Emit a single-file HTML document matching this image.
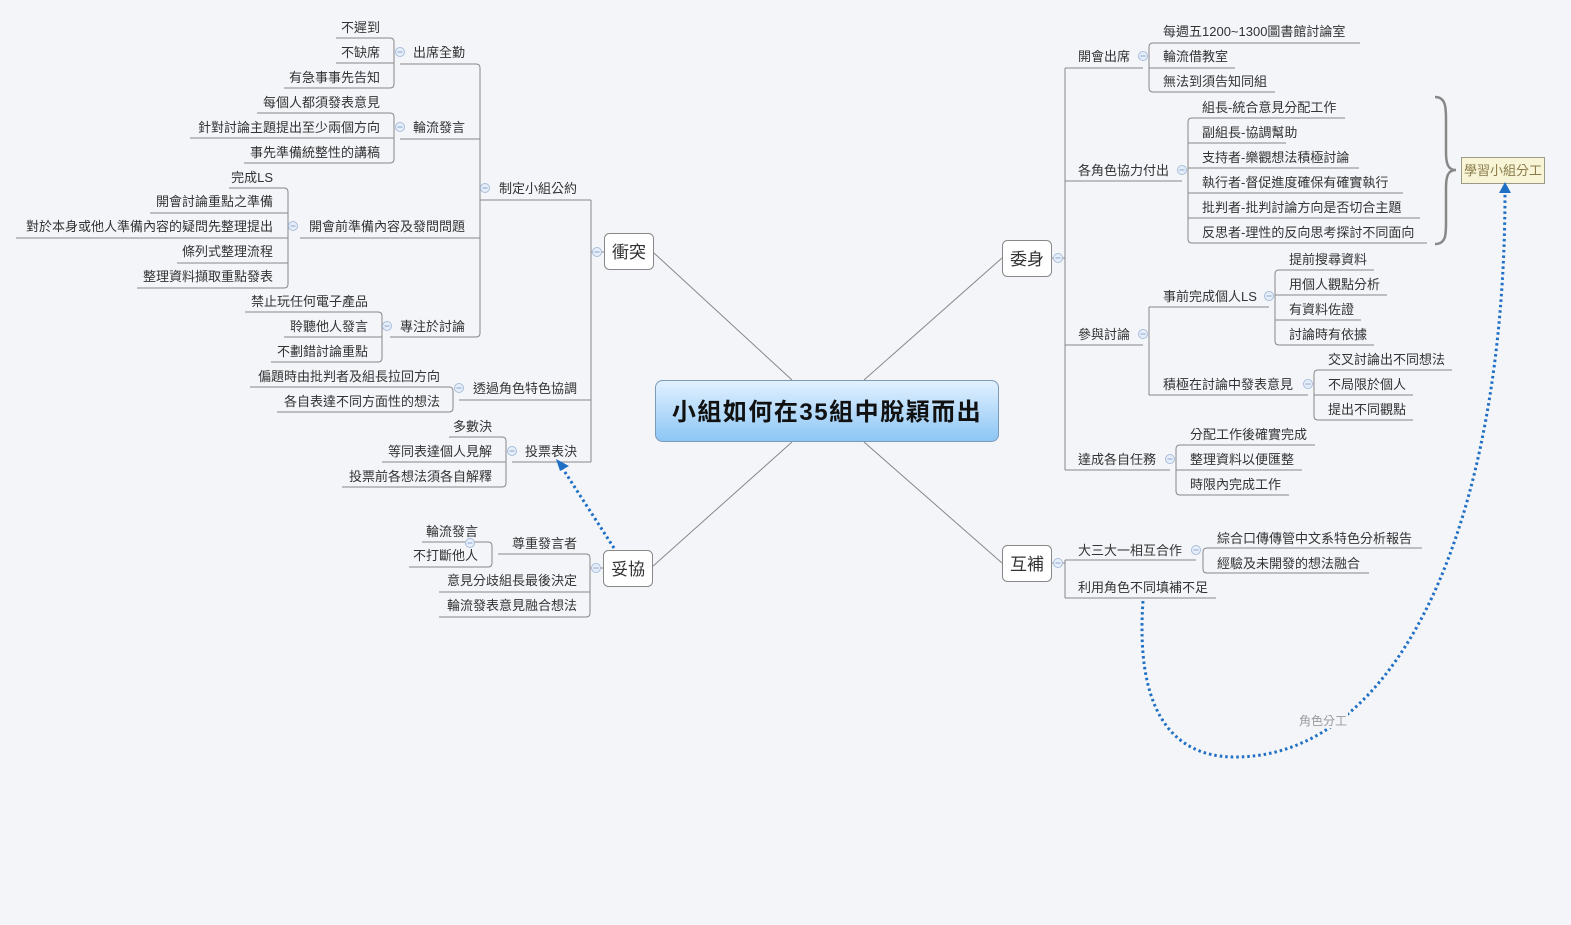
<!DOCTYPE html>
<html><head><meta charset="utf-8"><style>
html,body{margin:0;padding:0;background:#f3f5f9;}
svg{display:block;font-family:"Liberation Sans","Noto Sans CJK TC",sans-serif;}
.t{font-size:13px;fill:#333;}
.l{fill:none;stroke:#888;stroke-width:1;}
.ic{fill:#e6eefa;stroke:#a9bedb;stroke-width:1;}
.im{stroke:#8aa6cf;stroke-width:1;}
</style></head><body>
<svg width="1571" height="925" viewBox="0 0 1571 925" xmlns="http://www.w3.org/2000/svg">
<defs>
<linearGradient id="g" x1="0" y1="0" x2="0" y2="1"><stop offset="0" stop-color="#e2f1ff"/><stop offset="1" stop-color="#8cc6f5"/></linearGradient>
</defs>
<rect width="1571" height="925" fill="#f3f5f9"/>
<!-- center connectors -->
<path class="l" d="M792,380 L654,253 M792,442 L652,567 M864,380 L1002,258 M864,442 L1002,563"/>

<!-- LEFT: 衝突 tree -->
<g class="l">
<path d="M591,200 V462 M591,252 H604"/>
<path d="M480,200 H591"/>
<path d="M400,64 H476 Q480,64 480,68 V333 Q480,337 476,337 H390 M400,139 H480 M300,238 H480"/>
<!-- 出席全勤 -->
<path d="M336,38 H390 Q394,38 394,42 V84 Q394,88 390,88 H284 M336,63 H394"/>
<!-- 輪流發言 -->
<path d="M257,113 H390 Q394,113 394,117 V159 Q394,163 390,163 H244 M190,138 H394"/>
<!-- 開會前 -->
<path d="M229,188 H284 Q288,188 288,192 V284 Q288,288 284,288 H137 M150,213 H288 M16,238 H288 M177,263 H288"/>
<!-- 專注 -->
<path d="M245,312 H378 Q382,312 382,316 V358 Q382,362 378,362 H271 M284,337 H382"/>
<!-- 透過 -->
<path d="M250,387 H449 Q453,387 453,391 V408 Q453,412 449,412 H277 M459,400 H591"/>
<!-- 投票 -->
<path d="M449,437 H502 Q506,437 506,441 V483 Q506,487 502,487 H342 M382,462 H506 M512,462 H591"/>
<!-- 妥協 -->
<path d="M498,554 H586 Q590,554 590,558 V613 Q590,617 586,617 H439 M439,592 H590 M590,568 H603"/>
<path d="M422,542 H488 Q492,542 492,546 V563 Q492,567 488,567 H409"/>
</g>
<g class="t" text-anchor="end">
<text x="380" y="32">不遲到</text><text x="380" y="57">不缺席</text><text x="380" y="82">有急事事先告知</text>
<text x="465" y="57">出席全勤</text>
<text x="380" y="107">每個人都須發表意見</text><text x="380" y="132">針對討論主題提出至少兩個方向</text><text x="380" y="157">事先準備統整性的講稿</text>
<text x="465" y="132">輪流發言</text>
<text x="273" y="182">完成LS</text><text x="273" y="206">開會討論重點之準備</text><text x="273" y="231">對於本身或他人準備內容的疑問先整理提出</text><text x="273" y="256">條列式整理流程</text><text x="273" y="281">整理資料擷取重點發表</text>
<text x="465" y="231">開會前準備內容及發問問題</text>
<text x="368" y="306">禁止玩任何電子產品</text><text x="368" y="331">聆聽他人發言</text><text x="368" y="356">不劃錯討論重點</text>
<text x="465" y="331">專注於討論</text>
<text x="577" y="193">制定小組公約</text>
<text x="440" y="381">偏題時由批判者及組長拉回方向</text><text x="440" y="406">各自表達不同方面性的想法</text>
<text x="577" y="393">透過角色特色協調</text>
<text x="492" y="431">多數決</text><text x="492" y="456">等同表達個人見解</text><text x="492" y="481">投票前各想法須各自解釋</text>
<text x="577" y="456">投票表決</text>
<text x="478" y="536">輪流發言</text><text x="478" y="560">不打斷他人</text>
<text x="577" y="548">尊重發言者</text>
<text x="577" y="585">意見分歧組長最後決定</text><text x="577" y="610">輪流發表意見融合想法</text>
</g>

<!-- RIGHT -->
<g class="l">
<path d="M1065,68 V470 M1051,258 H1065"/>
<path d="M1065,68 H1143 M1065,181 H1182 M1065,345 H1143 M1065,470 H1170"/>
<path d="M1360,43 H1153 Q1149,43 1149,47 V88 Q1149,92 1153,92 H1275 M1149,68 H1235"/>
<path d="M1345,118 H1192 Q1188,118 1188,122 V239 Q1188,243 1192,243 H1427 M1188,143 H1286 M1188,168 H1359 M1188,193 H1403 M1188,218 H1420"/>
<path d="M1149,307 V395 M1149,307 H1269 M1149,395 H1308"/>
<path d="M1374,270 H1279 Q1275,270 1275,274 V341 Q1275,345 1279,345 H1374 M1275,295 H1387 M1275,320 H1361"/>
<path d="M1452,370 H1318 Q1314,370 1314,374 V416 Q1314,420 1318,420 H1413 M1314,395 H1413"/>
<path d="M1315,445 H1180 Q1176,445 1176,449 V491 Q1176,495 1180,495 H1289 M1176,470 H1302"/>
<path d="M1065,560 V598 M1051,563 H1065 M1065,560 H1196 M1065,598 H1216"/>
<path d="M1422,548 H1207 Q1203,548 1203,552 V569 Q1203,573 1207,573 H1369"/>
</g>
<g class="t">
<text x="1078" y="61">開會出席</text>
<text x="1163" y="36">每週五1200~1300圖書館討論室</text><text x="1163" y="61">輪流借教室</text><text x="1163" y="86">無法到須告知同組</text>
<text x="1078" y="175">各角色協力付出</text>
<text x="1202" y="112">組長-統合意見分配工作</text><text x="1202" y="137">副組長-協調幫助</text><text x="1202" y="162">支持者-樂觀想法積極討論</text><text x="1202" y="187">執行者-督促進度確保有確實執行</text><text x="1202" y="212">批判者-批判討論方向是否切合主題</text><text x="1202" y="237">反思者-理性的反向思考探討不同面向</text>
<text x="1078" y="339">參與討論</text>
<text x="1163" y="301">事前完成個人LS</text>
<text x="1289" y="264">提前搜尋資料</text><text x="1289" y="289">用個人觀點分析</text><text x="1289" y="314">有資料佐證</text><text x="1289" y="339">討論時有依據</text>
<text x="1163" y="389">積極在討論中發表意見</text>
<text x="1328" y="364">交叉討論出不同想法</text><text x="1328" y="389">不局限於個人</text><text x="1328" y="414">提出不同觀點</text>
<text x="1078" y="464">達成各自任務</text>
<text x="1190" y="439">分配工作後確實完成</text><text x="1190" y="464">整理資料以便匯整</text><text x="1190" y="489">時限內完成工作</text>
<text x="1078" y="555">大三大一相互合作</text>
<text x="1217" y="543">綜合口傳傳管中文系特色分析報告</text><text x="1217" y="568">經驗及未開發的想法融合</text>
<text x="1078" y="592">利用角色不同填補不足</text>
</g>

<!-- collapse icons -->
<g>
<g transform="translate(400,52)"><circle class="ic" r="4.5"/><path class="im" d="M-2.5,0H2.5"/></g>
<g transform="translate(400,127)"><circle class="ic" r="4.5"/><path class="im" d="M-2.5,0H2.5"/></g>
<g transform="translate(293,226)"><circle class="ic" r="4.5"/><path class="im" d="M-2.5,0H2.5"/></g>
<g transform="translate(387,326)"><circle class="ic" r="4.5"/><path class="im" d="M-2.5,0H2.5"/></g>
<g transform="translate(485,188)"><circle class="ic" r="4.5"/><path class="im" d="M-2.5,0H2.5"/></g>
<g transform="translate(459,388)"><circle class="ic" r="4.5"/><path class="im" d="M-2.5,0H2.5"/></g>
<g transform="translate(512,451)"><circle class="ic" r="4.5"/><path class="im" d="M-2.5,0H2.5"/></g>
<g transform="translate(597,252)"><circle class="ic" r="4.5"/><path class="im" d="M-2.5,0H2.5"/></g>
<g transform="translate(470,543)"><circle class="ic" r="4.5"/><path class="im" d="M-2.5,0H2.5"/></g>
<g transform="translate(596,568)"><circle class="ic" r="4.5"/><path class="im" d="M-2.5,0H2.5"/></g>
<g transform="translate(1058,258)"><circle class="ic" r="4.5"/><path class="im" d="M-2.5,0H2.5"/></g>
<g transform="translate(1058,563)"><circle class="ic" r="4.5"/><path class="im" d="M-2.5,0H2.5"/></g>
<g transform="translate(1143,56)"><circle class="ic" r="4.5"/><path class="im" d="M-2.5,0H2.5"/></g>
<g transform="translate(1182,170)"><circle class="ic" r="4.5"/><path class="im" d="M-2.5,0H2.5"/></g>
<g transform="translate(1143,334)"><circle class="ic" r="4.5"/><path class="im" d="M-2.5,0H2.5"/></g>
<g transform="translate(1269,296)"><circle class="ic" r="4.5"/><path class="im" d="M-2.5,0H2.5"/></g>
<g transform="translate(1308,384)"><circle class="ic" r="4.5"/><path class="im" d="M-2.5,0H2.5"/></g>
<g transform="translate(1170,459)"><circle class="ic" r="4.5"/><path class="im" d="M-2.5,0H2.5"/></g>
<g transform="translate(1196,550)"><circle class="ic" r="4.5"/><path class="im" d="M-2.5,0H2.5"/></g>
</g>

<!-- main topic boxes -->
<g>
<rect x="604.5" y="233.5" width="49" height="36" rx="5" fill="#fff" stroke="#888"/>
<text x="629" y="258" text-anchor="middle" font-size="17" fill="#333">衝突</text>
<rect x="603.5" y="550.5" width="49" height="36" rx="5" fill="#fff" stroke="#888"/>
<text x="628" y="575" text-anchor="middle" font-size="17" fill="#333">妥協</text>
<rect x="1002.5" y="240.5" width="49" height="36" rx="5" fill="#fff" stroke="#888"/>
<text x="1027" y="265" text-anchor="middle" font-size="17" fill="#333">委身</text>
<rect x="1002.5" y="545.5" width="49" height="36" rx="5" fill="#fff" stroke="#888"/>
<text x="1027" y="570" text-anchor="middle" font-size="17" fill="#333">互補</text>
</g>

<!-- center -->
<rect x="655.5" y="380.5" width="343" height="61" rx="7" fill="url(#g)" stroke="#7a9ab8"/>
<text x="827" y="420" text-anchor="middle" font-size="24" font-weight="bold" fill="#111" letter-spacing="1.5">小組如何在35組中脫穎而出</text>

<!-- brace + callout -->
<path d="M1435,97 C1447,97 1446,110 1446,125 V152 C1446,164 1448,170 1456,170 C1448,170 1446,176 1446,188 V218 C1446,233 1447,244 1435,244" fill="none" stroke="#888" stroke-width="2.5"/>
<rect x="1461.5" y="157.5" width="83" height="26" fill="#f7f5d6" stroke="#9a9a8a"/>
<text x="1503" y="175" text-anchor="middle" font-size="13" fill="#8a7a4a">學習小組分工</text>

<!-- dotted relationships -->
<path d="M1143,601 C1136,700 1165,757 1235,757 C1400,757 1505,520 1505,192" fill="none" stroke="#1f6fc4" stroke-width="3" stroke-dasharray="2.5,3"/>
<path d="M1499,193 L1505,182 L1511,193 Z" fill="#1f6fc4"/>
<rect x="1296" y="712" width="52" height="16" fill="#f3f5f9"/>
<text x="1323" y="725" text-anchor="middle" font-size="12" fill="#999">角色分工</text>
<path d="M614,548 L561,466" fill="none" stroke="#1f6fc4" stroke-width="3" stroke-dasharray="2.5,3"/>
<path d="M556,459 L569,466 L560,471 Z" fill="#1f6fc4"/>
</svg>
</body></html>
